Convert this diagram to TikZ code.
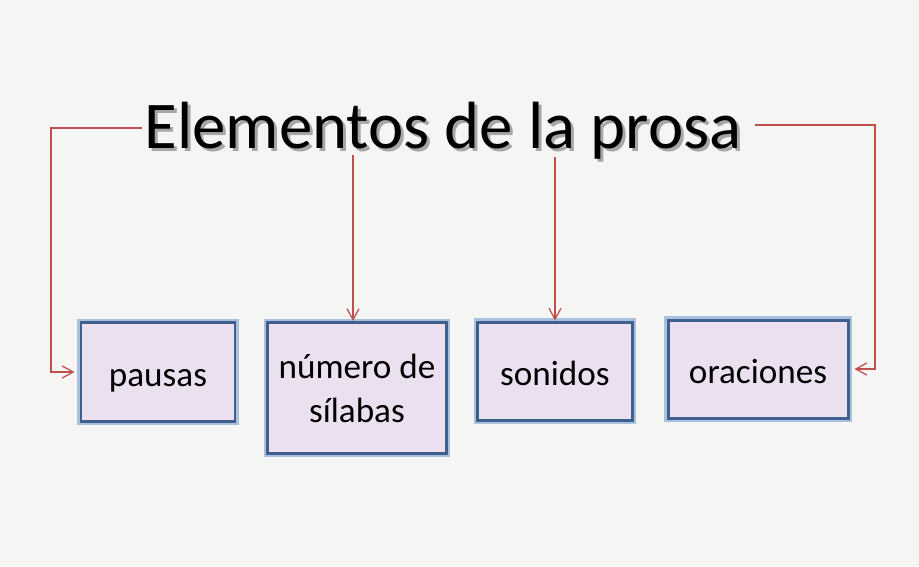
\documentclass[tikz,border=0pt]{standalone}
\usepackage{fontspec}
\setmainfont{Carlito}
\usepackage{tikz}
\usetikzlibrary{arrows.meta,calc}
\usepackage{xcolor}
\definecolor{pagebg}{HTML}{F5F5F3}
\definecolor{boxline}{HTML}{3F5F8C}
\definecolor{boxglow}{HTML}{A9C0DE}
\definecolor{boxfill}{HTML}{EAE0F0}
\definecolor{connred}{HTML}{C0504D}

\begin{document}
\begin{tikzpicture}[x=0.02cm, y=-0.02cm,
  elem/.style 2 args={draw=boxline, line width=1.7pt, fill=boxfill,
               preaction={draw=boxglow, line width=4pt},
               minimum width=#1*0.02cm, minimum height=#2*0.02cm,
               inner sep=0pt, align=center,
               font=\fontsize{20}{25}\selectfont},
  linea/.style={text height=16pt, text depth=0pt},
  conn/.style={-{Straight Barb[length=2.2mm, width=2.4mm]}, connred, line width=0.7pt}]
  \fill[pagebg] (0,0) rectangle (919,566);
  \useasboundingbox (0,0) rectangle (919,566);
  % titulo con sombra
  \node[anchor=base, text=black!35, font=\fontsize{38}{44}\selectfont] at (446,151) {Elementos de la prosa};
  \node[anchor=base, font=\fontsize{38}{44}\selectfont] (titulo) at (443,148) {Elementos de la prosa};
  % cajas
  \node[elem={154}{99}, linea] (pausas) at (158,372) {pausas};
  \node[elem={179}{131}] (silabas) at (357,388) {número de\\sílabas};
  \node[elem={155}{98}, linea] (sonidos) at (555,371) {sonidos};
  \node[elem={180}{98}, linea] (oraciones) at (758,369) {oraciones};
  % puntos de salida
  \coordinate (izq) at (142,128);
  \coordinate (der) at (755,125);
  \coordinate (s1) at (353,155);
  \coordinate (s2) at (555,157);
  % conectores
  \draw[conn] (izq) -- ++(-91,0) |- ($(pausas.west)+(-5,0)$);
  \draw[conn] (s1) -- (s1 |- silabas.north);
  \draw[conn] (s2) -- (s2 |- sonidos.north);
  \draw[conn] (der) -- ++(120,0) |- ($(oraciones.east)+(5,0)$);
\end{tikzpicture}
\end{document}
